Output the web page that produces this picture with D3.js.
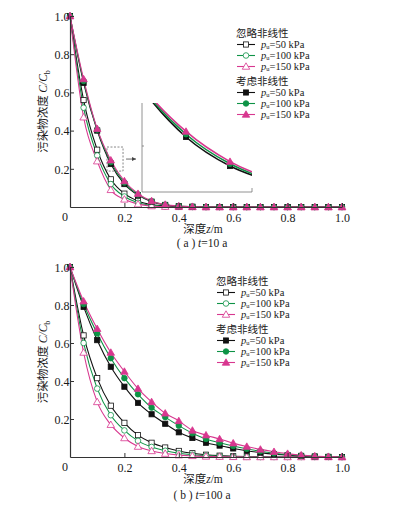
<!DOCTYPE html>
<html>
<head>
<meta charset="utf-8">
<script src="https://cdn.jsdelivr.net/npm/d3@7"></script>
<style>
  body { margin: 0; background: #fff; }
  svg text { font-family: "Liberation Serif", "DejaVu Serif", serif; fill: #1a1a1a; }
  .cjk { font-family: "Noto Sans CJK SC", sans-serif; }
</style>
</head>
<body>
<svg id="chart" width="394" height="510"></svg>
<script>
// depth z (m)
const depth = [0, 0.05, 0.1, 0.15, 0.2, 0.25, 0.3, 0.35, 0.4, 0.45, 0.5,
               0.55, 0.6, 0.65, 0.7, 0.75, 0.8, 0.85, 0.9, 0.95, 1.0];

// (a) t = 10 a
const a_ign50  = [1, 0.56, 0.30, 0.145, 0.07, 0.032, 0.013, 0.005, 0.002, 0.001, 0, 0, 0, 0, 0, 0, 0, 0, 0, 0, 0];
const a_ign100 = [1, 0.52, 0.27, 0.12, 0.055, 0.022, 0.009, 0.003, 0.001, 0, 0, 0, 0, 0, 0, 0, 0, 0, 0, 0, 0];
const a_ign150 = [1, 0.47, 0.24, 0.09, 0.04, 0.015, 0.005, 0.002, 0.001, 0, 0, 0, 0, 0, 0, 0, 0, 0, 0, 0, 0];
const a_con50  = [1, 0.65, 0.40, 0.225, 0.12, 0.062, 0.028, 0.011, 0.004, 0.001, 0, 0, 0, 0, 0, 0, 0, 0, 0, 0, 0];
const a_con100 = [1, 0.66, 0.405, 0.235, 0.128, 0.066, 0.030, 0.012, 0.005, 0.002, 0, 0, 0, 0, 0, 0, 0, 0, 0, 0, 0];
const a_con150 = [1, 0.67, 0.41, 0.245, 0.136, 0.07, 0.032, 0.013, 0.005, 0.002, 0, 0, 0, 0, 0, 0, 0, 0, 0, 0, 0];

// (b) t = 100 a
const b_ign50  = [1, 0.64, 0.415, 0.27, 0.18, 0.115, 0.075, 0.05, 0.032, 0.02, 0.012, 0.007, 0.004, 0.002, 0.001, 0, 0, 0, 0, 0, 0];
const b_ign100 = [1, 0.60, 0.36, 0.22, 0.14, 0.085, 0.053, 0.033, 0.02, 0.012, 0.007, 0.004, 0.002, 0.001, 0, 0, 0, 0, 0, 0, 0];
const b_ign150 = [1, 0.55, 0.29, 0.17, 0.10, 0.055, 0.032, 0.018, 0.01, 0.006, 0.003, 0.002, 0.001, 0, 0, 0, 0, 0, 0, 0, 0];
const b_con50  = [1, 0.79, 0.615, 0.475, 0.37, 0.285, 0.225, 0.175, 0.13, 0.10, 0.075, 0.06, 0.045, 0.033, 0.023, 0.015, 0.01, 0.006, 0.003, 0.001, 0];
const b_con100 = [1, 0.805, 0.65, 0.52, 0.415, 0.33, 0.26, 0.21, 0.165, 0.125, 0.095, 0.075, 0.058, 0.043, 0.03, 0.02, 0.013, 0.008, 0.004, 0.002, 0];
const b_con150 = [1, 0.82, 0.675, 0.55, 0.45, 0.36, 0.29, 0.23, 0.19, 0.14, 0.115, 0.095, 0.073, 0.055, 0.04, 0.028, 0.018, 0.01, 0.005, 0.002, 0];

const legendHeads = ["忽略非线性", "考虑非线性"];
const legendLabels = ["50 kPa", "100 kPa", "150 kPa"];
const xTicks = [0.2, 0.4, 0.6, 0.8, 1.0];
const yTicks = [0.2, 0.4, 0.6, 0.8, 1.0];

const BLACK = "#111", GREEN = "#0e9346", PINK = "#d8378f";
const colors = [BLACK, GREEN, PINK];

const svg = d3.select("#chart");

function marker(g, kind, filled, color, x, y) {
  const fill = filled ? color : "#fff";
  if (kind === 0) {
    g.append("rect").attr("x", x - 2.6).attr("y", y - 2.6).attr("width", 5.2).attr("height", 5.2)
      .attr("fill", fill).attr("stroke", color).attr("stroke-width", 0.8);
  } else if (kind === 1) {
    g.append("circle").attr("cx", x).attr("cy", y).attr("r", 2.8)
      .attr("fill", fill).attr("stroke", color).attr("stroke-width", 0.8);
  } else {
    g.append("path").attr("d", d3.symbol(d3.symbolTriangle, 24)())
      .attr("transform", `translate(${x},${y + 0.6})`)
      .attr("fill", fill).attr("stroke", color).attr("stroke-width", 0.8);
  }
}

function drawPanel(opts) {
  const x = d3.scaleLinear().domain([0, 1]).range([70, 342]);
  const y = d3.scaleLinear().domain([0, 1]).range([opts.y0, opts.y1]);
  const g = svg.append("g");

  const series = [
    { v: opts.ign[0], k: 0, f: false }, { v: opts.ign[1], k: 1, f: false }, { v: opts.ign[2], k: 2, f: false },
    { v: opts.con[0], k: 0, f: true }, { v: opts.con[1], k: 1, f: true }, { v: opts.con[2], k: 2, f: true }
  ];

  const line = d3.line().x((d, i) => x(depth[i])).y(d => y(d)).curve(d3.curveMonotoneX);

  series.forEach(s => {
    g.append("path").datum(s.v).attr("d", line)
      .attr("fill", "none").attr("stroke", colors[s.k]).attr("stroke-width", 1.1);
  });
  series.forEach(s => {
    s.v.forEach((d, i) => marker(g, s.k, s.f, colors[s.k], x(depth[i]), y(d)));
  });

  // axes
  const ax = g.append("g").attr("transform", `translate(0,${opts.y0})`)
    .call(d3.axisBottom(x).tickValues(xTicks).tickSizeInner(-4).tickSizeOuter(0).tickFormat(d3.format(".1f")));
  const ay = g.append("g").attr("transform", "translate(70,0)")
    .call(d3.axisLeft(y).tickValues(yTicks).tickSizeInner(-4).tickSizeOuter(0).tickFormat(d3.format(".1f")));
  [ax, ay].forEach(a => {
    a.select(".domain").attr("stroke", "#333").attr("stroke-width", 1.2);
    a.selectAll(".tick line").attr("stroke", "#333");
    a.selectAll("text").attr("font-size", 12).attr("fill", "#1a1a1a")
      .style("font-family", "'Liberation Serif', serif");
  });
  ax.selectAll("text").attr("dy", "1.0em");
  ay.selectAll("text").attr("dx", "0.2em").attr("dy", "0.35em");
  g.append("text").attr("x", 65).attr("y", opts.y0 + 14).attr("text-anchor", "middle")
    .attr("font-size", 12).text("0");

  // y label
  const yl = g.append("text")
    .attr("transform", `translate(47,${(opts.y0 + opts.y1) / 2}) rotate(-90)`)
    .attr("text-anchor", "middle").attr("font-size", 11.5);
  yl.append("tspan").attr("class", "cjk").text("污染物浓度 ");
  yl.append("tspan").attr("font-style", "italic").text("C/C");
  yl.append("tspan").attr("font-size", 8).attr("dy", 3).text("b");

  // x label
  const xl = g.append("text").attr("x", 203).attr("y", opts.y0 + 26).attr("text-anchor", "middle").attr("font-size", 11.5);
  xl.append("tspan").attr("class", "cjk").text("深度");
  xl.append("tspan").attr("font-style", "italic").text("z");
  xl.append("tspan").text("/m");

  // caption
  const cap = g.append("text").attr("x", 202).attr("y", opts.capY).attr("text-anchor", "middle").attr("font-size", 11.5);
  cap.append("tspan").text("( " + opts.tag + " ) ");
  cap.append("tspan").attr("font-style", "italic").text("t");
  cap.append("tspan").text("=" + opts.time + " a");

  return { g, x, y };
}

function drawLegend(g, L) {
  const lg = g.append("g");
  legendHeads.forEach((h, hi) => {
    const c = L.y + hi * 48;
    lg.append("text").attr("class", "cjk").attr("x", L.x - 1).attr("y", c + 3.5).attr("font-size", 10.5).text(h);
    for (let j = 0; j < 3; j++) {
      const yy = c + 11.5 + j * 11;
      lg.append("line").attr("x1", L.x).attr("x2", L.x + 18).attr("y1", yy).attr("y2", yy)
        .attr("stroke", colors[j]).attr("stroke-width", 1.1);
      marker(lg, j, hi === 1, colors[j], L.x + 9, yy);
      const t = lg.append("text").attr("x", L.x + 24).attr("y", yy + 3.4).attr("font-size", 10.5);
      t.append("tspan").attr("font-style", "italic").text("p");
      t.append("tspan").attr("font-size", 6.5).attr("dy", 1.5).text("u");
      t.append("tspan").attr("dy", -1.5).text("=" + legendLabels[j]);
    }
  });
}

const panelA = drawPanel({
  y0: 207, y1: 16, capY: 247, tag: "a", time: "10",
  ign: [a_ign50, a_ign100, a_ign150], con: [a_con50, a_con100, a_con150]
});

const panelB = drawPanel({
  y0: 457, y1: 267, capY: 499, tag: "b", time: "100",
  ign: [b_ign50, b_ign100, b_ign150], con: [b_con50, b_con100, b_con150]
});

// inset of panel (a): dashed box, arrow and zoomed view
(function () {
  const g = panelA.g;
  const bx0 = 0.136, bx1 = 0.195, by0 = 0.188, by1 = 0.314;
  g.append("rect").attr("x", panelA.x(bx0)).attr("y", panelA.y(by1))
    .attr("width", panelA.x(bx1) - panelA.x(bx0)).attr("height", panelA.y(by0) - panelA.y(by1))
    .attr("fill", "none").attr("stroke", "#555").attr("stroke-width", 0.7).attr("stroke-dasharray", "2,1.5");
  const ay = (panelA.y(by0) + panelA.y(by1)) / 2;
  g.append("line").attr("x1", panelA.x(bx1) + 3).attr("x2", 136).attr("y1", ay).attr("y2", ay)
    .attr("stroke", "#444").attr("stroke-width", 0.8);
  g.append("path").attr("d", `M136,${ay} l-4,-2 v4 z`).attr("fill", "#444");

  const ix = d3.scaleLinear().domain([0.1, 0.225]).range([142, 252]);
  const iy = d3.scaleLinear().domain([0.026, 0.348]).range([192, 103]);
  const ig = g.append("g");
  ig.append("clipPath").attr("id", "insetClip").append("rect")
    .attr("x", 142).attr("y", 103).attr("width", 110).attr("height", 89);
  const inner = ig.append("g").attr("clip-path", "url(#insetClip)");
  const il = d3.line().x((d, i) => ix(depth[i])).y(d => iy(d)).curve(d3.curveMonotoneX);
  const con = [a_con50, a_con100, a_con150];
  con.forEach((s, k) => {
    inner.append("path").datum(s).attr("d", il).attr("fill", "none")
      .attr("stroke", colors[k]).attr("stroke-width", 1.6);
  });
  con.forEach((s, k) => {
    s.forEach((d, i) => {
      if (depth[i] > 0.12 && depth[i] < 0.22) marker(inner, k, true, colors[k], ix(depth[i]), iy(d));
    });
  });
  ig.append("path").attr("d", "M142,103 V192 H252 v-4").attr("fill", "none")
    .attr("stroke", "#777").attr("stroke-width", 0.8);
  ig.append("line").attr("x1", 142).attr("x2", 144).attr("y1", 146).attr("y2", 146)
    .attr("stroke", "#777").attr("stroke-width", 0.8);
})();

drawLegend(panelA.g, { x: 237, y: 33 });
drawLegend(panelB.g, { x: 217, y: 281 });
</script>
</body>
</html>
